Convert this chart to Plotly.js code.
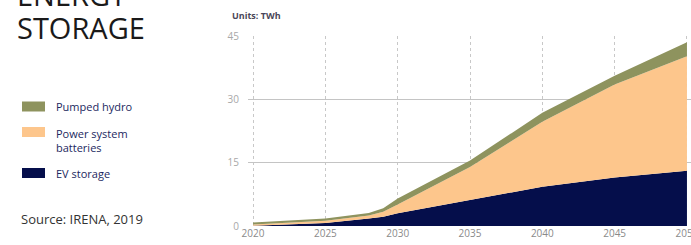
<!DOCTYPE html>
<html>
<head>
<meta charset="utf-8">
<script src="https://cdn.plot.ly/plotly-3.0.1.min.js"></script>
<style>html,body{margin:0;padding:0;background:#fff;overflow:hidden;width:691px;height:245px;}#chart{width:700px;height:245px;}</style>
</head>
<body>
<div id="chart"></div>
<script>
const years = [2020, 2022, 2025, 2028, 2029, 2030, 2035, 2040, 2045, 2050];
const evStorage = [0.05, 0.25, 0.7, 1.8, 2.2, 3.0, 6.2, 9.3, 11.5, 13.1];
const powerBatteries = [0.3, 0.45, 0.55, 0.7, 1.2, 2.1, 7.8, 15.4, 22.0, 27.1];
const pumpedHydro = [0.5, 0.5, 0.55, 0.6, 0.8, 1.4, 1.5, 2.1, 2.1, 3.3];
const seriesNames = ['EV storage', 'Power system batteries', 'Pumped hydro'];
const seriesColors = ['#050e4b', '#fdc68c', '#8e935e'];
const xTicks = [2020, 2025, 2030, 2035, 2040, 2045, 2050];
const yTicks = [0, 15, 30, 45];

const W = 700, H = 245;
const mL = 248, mR = 9, mT = 36, mB = 19;
const pw = W - mL - mR, ph = H - mT - mB;
const px = x => (x - mL) / pw;
const py = y => (H - mB - y) / ph;

const values = [evStorage, powerBatteries, pumpedHydro];
const traces = values.map((v, i) => ({
  x: years, y: v, name: seriesNames[i], type: 'scatter', mode: 'lines',
  stackgroup: 'one', line: {width: 0, color: seriesColors[i]},
  fillcolor: seriesColors[i], hoverinfo: 'x+y+name', showlegend: false
}));

const legendItems = [
  {name: 'Pumped hydro', color: seriesColors[2], sy: 106.5, ty: 106.5},
  {name: 'Power system<br>batteries', color: seriesColors[1], sy: 132, ty: 140},
  {name: 'EV storage', color: seriesColors[0], sy: 173, ty: 173}
];
const shapes = legendItems.map(it => ({
  type: 'rect', xref: 'paper', yref: 'paper',
  x0: px(22), x1: px(45), y0: py(it.sy - 5), y1: py(it.sy + 5),
  fillcolor: it.color, line: {width: 0}
}));
const annotations = legendItems.map(it => ({
  text: it.name, xref: 'paper', yref: 'paper', x: px(54), y: py(it.ty),
  xanchor: 'left', yanchor: 'middle', align: 'left', showarrow: false,
  font: {family: 'Open Sans', size: 11, color: '#1b2860'}
}));
annotations.push(
  {text: 'ENERGY', xref: 'paper', yref: 'paper', x: px(15), y: py(8), xanchor: 'left', yanchor: 'bottom', yshift: -8, showarrow: false,
   font: {family: 'Open Sans', size: 29, color: '#1a1a1a'}},
  {text: 'STORAGE', xref: 'paper', yref: 'paper', x: px(15), y: py(41), xanchor: 'left', yanchor: 'bottom', yshift: -8, showarrow: false,
   font: {family: 'Open Sans', size: 29, color: '#1a1a1a'}},
  {text: 'Source: IRENA, 2019', xref: 'paper', yref: 'paper', x: px(19), y: py(219), xanchor: 'left', yanchor: 'middle', showarrow: false,
   font: {family: 'Open Sans', size: 13, color: '#333333'}},
  {text: '<b>Units: TWh</b>', xref: 'paper', yref: 'paper', x: px(230), y: py(16), xanchor: 'left', yanchor: 'middle', showarrow: false,
   font: {family: 'Open Sans', size: 9, color: '#4a4658'}}
);

const layout = {
  width: W, height: H,
  margin: {l: mL, r: mR, t: mT, b: mB, pad: 0},
  paper_bgcolor: '#fff', plot_bgcolor: '#fff',
  showlegend: false,
  xaxis: {
    range: [2019.65, 2050.28], tickvals: xTicks, ticktext: xTicks.map(String),
    showgrid: true, gridcolor: '#c8c8c8', griddash: 'dot', gridwidth: 1,
    zeroline: false, showline: false, ticks: '',
    tickfont: {family: 'Open Sans', size: 10, color: '#8a8a8a'}, fixedrange: true
  },
  yaxis: {
    range: [0, 45], tickvals: yTicks, ticktext: yTicks.map(String),
    showgrid: true, gridcolor: '#c4c4c4', gridwidth: 1.5,
    zeroline: false, showline: false, ticks: '', ticklabelstandoff: 8,
    tickfont: {family: 'Open Sans', size: 10, color: '#a8a8a8'}, fixedrange: true
  },
  shapes: shapes,
  annotations: annotations
};

Plotly.newPlot('chart', traces, layout, {displayModeBar: false, staticPlot: true});
</script>
</body>
</html>
